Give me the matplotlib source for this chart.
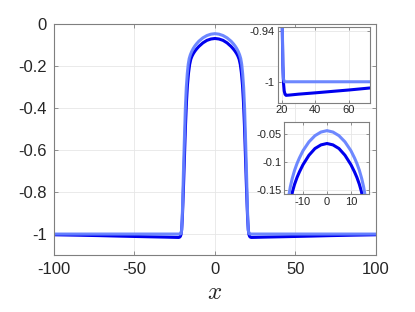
import numpy as np
import matplotlib.pyplot as plt

# right half of each profile (mirrored for x < 0)
x_light_half = [0, 2.5, 5, 7.5, 10, 11.5, 12.5, 13.5, 14.5, 15.3, 16, 16.6, 17.2, 17.8, 18.4, 19,
                19.5, 19.9, 20.2, 20.5, 20.7, 21.0, 21.6, 40, 70, 100]
y_light_half = [-0.044, -0.0465, -0.053, -0.064, -0.08, -0.093, -0.103, -0.115, -0.13, -0.145,
                -0.163, -0.19, -0.235, -0.3, -0.4, -0.55, -0.68, -0.8, -0.89, -0.95, -0.98,
                -0.996, -1.0, -1.0, -1.0, -1.0]

x_dark_half = [0, 2.5, 5, 7.5, 10, 11.5, 12.5, 13.5, 14.3, 15, 15.7, 16.4, 17.1, 17.7, 18.3, 18.9,
               19.4, 19.9, 20.3, 20.7, 21.1, 21.5, 22.0, 22.6, 25, 30, 40, 50, 60, 72, 85, 100]
y_dark_half = [-0.067, -0.0695, -0.076, -0.088, -0.105, -0.118, -0.128, -0.14, -0.152, -0.166,
               -0.19, -0.23, -0.29, -0.37, -0.48, -0.62, -0.74, -0.85, -0.93, -0.98, -1.002,
               -1.011, -1.015, -1.0162, -1.0158, -1.0148, -1.0132, -1.0115, -1.0098, -1.0075,
               -1.0055, -1.0035]

main_yticks = [-1, -0.8, -0.6, -0.4, -0.2, 0]
main_xticks = [-100, -50, 0, 50, 100]

DARK = '#0000ee'
LIGHT = '#6682ff'
AX_GRAY = '#7f7f7f'
TXT = '#262626'


def mirror(xh, yh):
    xh = np.array(xh, dtype=float)
    yh = np.array(yh, dtype=float)
    x = np.concatenate([-xh[:0:-1], xh])
    y = np.concatenate([yh[:0:-1], yh])
    return x, y


def fmt(v):
    return f'{v:g}'


def style(ax, fs):
    for sp in ax.spines.values():
        sp.set_color(AX_GRAY)
        sp.set_linewidth(0.8)
    ax.tick_params(direction='in', length=3, width=0.6, colors=AX_GRAY,
                   labelcolor=TXT, labelsize=fs, top=True, right=True)
    ax.grid(True, color='#e6e6e6', linewidth=0.6)
    ax.set_axisbelow(True)


def draw(ax, lw):
    xd, yd = mirror(x_dark_half, y_dark_half)
    xl, yl = mirror(x_light_half, y_light_half)
    ax.plot(xd, yd, color=DARK, lw=lw, solid_joinstyle='round', solid_capstyle='round')
    ax.plot(xl, yl, color=LIGHT, lw=lw, alpha=0.95, solid_joinstyle='round', solid_capstyle='round')


plt.rcParams['font.family'] = ['Liberation Sans', 'DejaVu Sans']
plt.rcParams['mathtext.fontset'] = 'cm'

fig = plt.figure(figsize=(4.15, 3.12), dpi=100)

ax = fig.add_axes([0.130, 0.1827, 0.776, 0.739])
draw(ax, 2.2)
ax.set_xlim(-100, 100)
ax.set_ylim(-1.1, 0)
ax.set_xticks(main_xticks)
ax.set_xticklabels([fmt(v) for v in main_xticks])
ax.set_yticks(main_yticks)
ax.set_yticklabels([fmt(v) for v in main_yticks])
style(ax, 12)
ax.tick_params(pad=5)
ax.set_xlabel('$x$', fontsize=18, color=TXT, labelpad=2)

# inset: right foot
ax1 = fig.add_axes([0.669, 0.6708, 0.2224, 0.2417])
draw(ax1, 2.2)
ax1.set_xlim(17.6, 72.4)
ax1.set_ylim(-1.025, -0.935)
ax1.set_xticks([20, 40, 60])
ax1.set_xticklabels(['20', '40', '60'])
ax1.set_yticks([-1, -0.94])
ax1.set_yticklabels(['-1', '-0.94'])
style(ax1, 8)
ax1.tick_params(length=2, pad=2)

# inset: peak
ax2 = fig.add_axes([0.685, 0.3772, 0.204, 0.2327])
draw(ax2, 2.2)
ax2.set_xlim(-17.8, 17.5)
ax2.set_ylim(-0.158, -0.028)
ax2.set_xticks([-10, 0, 10])
ax2.set_xticklabels(['-10', '0', '10'])
ax2.set_yticks([-0.15, -0.1, -0.05])
ax2.set_yticklabels(['-0.15', '-0.1', '-0.05'])
style(ax2, 8)
ax2.tick_params(length=2, pad=2)

fig.savefig('out.png', dpi=100)
